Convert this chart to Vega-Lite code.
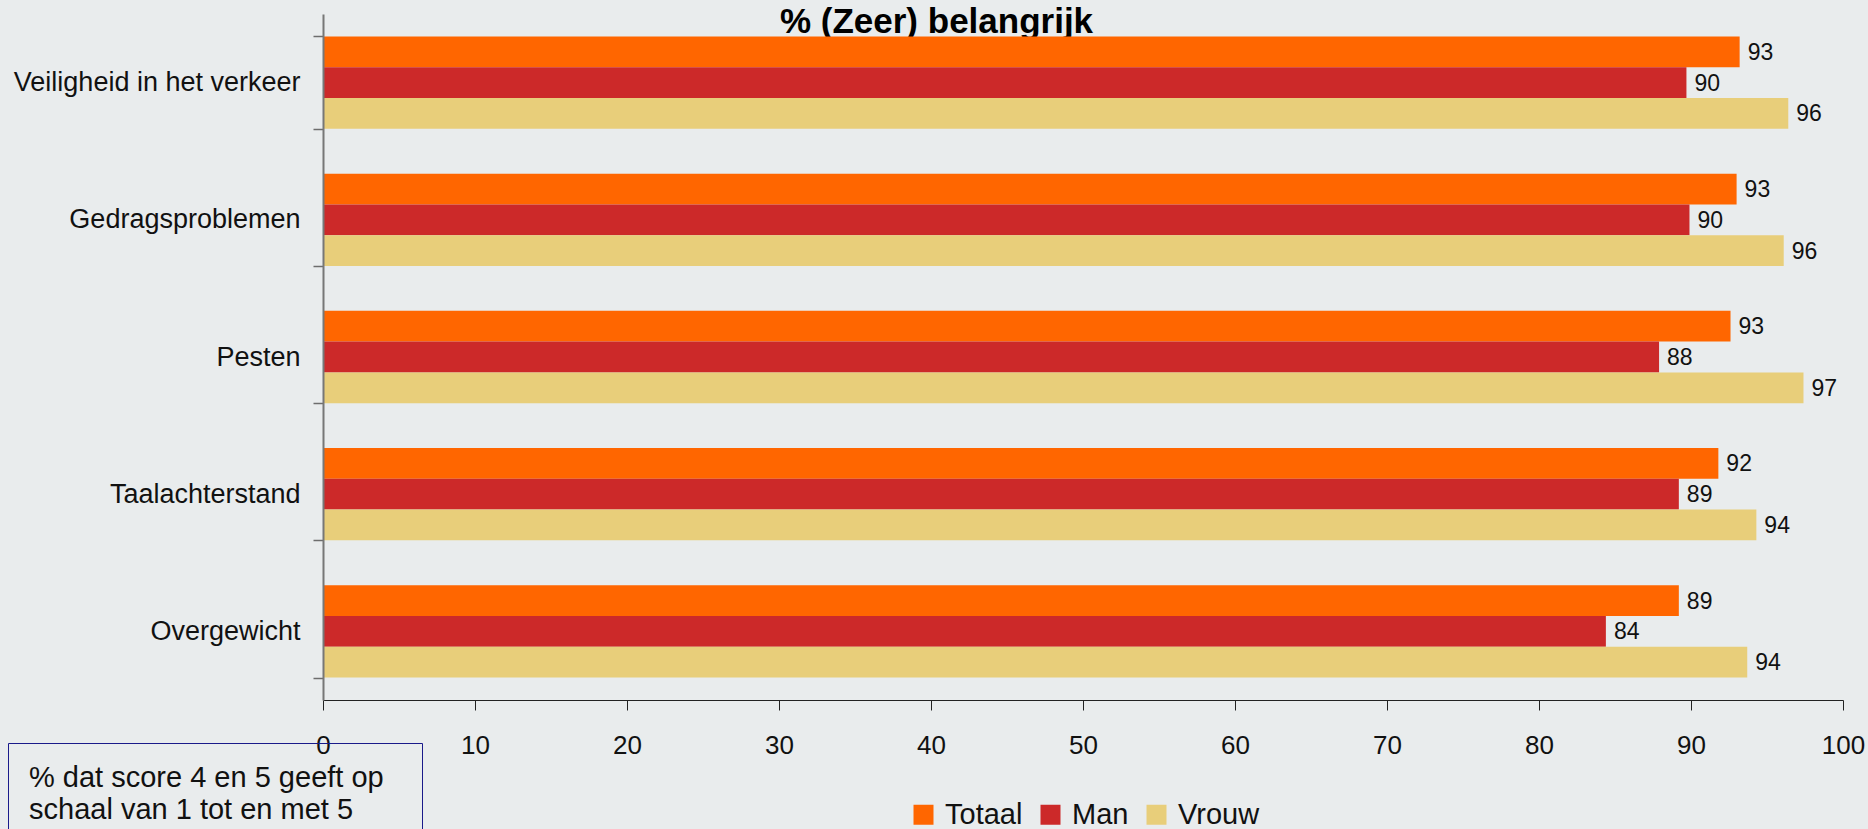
{
  "$schema": "https://vega.github.io/schema/vega-lite/v6.json",
  "width": 1520,
  "height": 686,
  "autosize": {"type": "none"},
  "padding": {"left": 323, "top": 14, "right": 25, "bottom": 129},
  "background": "#E9ECED",
  "data": {
    "values": [
      {"item": "Veiligheid in het verkeer", "groep": "Totaal", "waarde": 93.2, "noot": "n"},
      {"item": "Veiligheid in het verkeer", "groep": "Man", "waarde": 89.7, "noot": "n"},
      {"item": "Veiligheid in het verkeer", "groep": "Vrouw", "waarde": 96.4, "noot": "n"},
      {"item": "Gedragsproblemen", "groep": "Totaal", "waarde": 93.0, "noot": "n"},
      {"item": "Gedragsproblemen", "groep": "Man", "waarde": 89.9, "noot": "n"},
      {"item": "Gedragsproblemen", "groep": "Vrouw", "waarde": 96.1, "noot": "n"},
      {"item": "Pesten", "groep": "Totaal", "waarde": 92.6, "noot": "n"},
      {"item": "Pesten", "groep": "Man", "waarde": 87.9, "noot": "n"},
      {"item": "Pesten", "groep": "Vrouw", "waarde": 97.4, "noot": "n"},
      {"item": "Taalachterstand", "groep": "Totaal", "waarde": 91.8, "noot": "n"},
      {"item": "Taalachterstand", "groep": "Man", "waarde": 89.2, "noot": "n"},
      {"item": "Taalachterstand", "groep": "Vrouw", "waarde": 94.3, "noot": "n"},
      {"item": "Overgewicht", "groep": "Totaal", "waarde": 89.2, "noot": "n"},
      {"item": "Overgewicht", "groep": "Man", "waarde": 84.4, "noot": "n"},
      {"item": "Overgewicht", "groep": "Vrouw", "waarde": 93.7, "noot": "n"}
    ]
  },
  "encoding": {
    "y": {
      "field": "item",
      "type": "nominal",
      "sort": ["Veiligheid in het verkeer", "Gedragsproblemen", "Pesten", "Taalachterstand", "Overgewicht"],
      "scale": {"paddingInner": 0.327, "paddingOuter": 0.1635},
      "axis": {
        "title": null,
        "tickBand": "extent",
        "tickSize": 10,
        "tickColor": "#6d6d6d",
        "tickWidth": 1.5,
        "domainColor": "#777777",
        "domainWidth": 2,
        "labelFont": "Liberation Sans",
        "labelFontSize": 27,
        "labelColor": "#111111",
        "labelPadding": 13,
        "labelLimit": 400,
        "zindex": 1
      }
    },
    "yOffset": {
      "field": "groep",
      "type": "nominal",
      "sort": ["Totaal", "Man", "Vrouw"],
      "scale": {"paddingInner": 0, "paddingOuter": 0}
    },
    "x": {
      "field": "waarde",
      "type": "quantitative",
      "scale": {"domain": [0, 100]},
      "axis": {
        "title": "% (Zeer) belangrijk",
        "titleFont": "Liberation Sans",
        "titleFontSize": 35,
        "titleFontWeight": "bold",
        "titleColor": "#000000",
        "titleX": 613,
        "titleY": -668,
        "titleAlign": "center",
        "titleBaseline": "alphabetic",
        "values": [0, 10, 20, 30, 40, 50, 60, 70, 80, 90, 100],
        "grid": false,
        "tickSize": 10,
        "tickColor": "#222222",
        "domainColor": "#222222",
        "domainWidth": 1,
        "labelFont": "Liberation Sans",
        "labelFontSize": 26,
        "labelColor": "#111111",
        "labelPadding": 22,
        "labelFlush": false
      }
    }
  },
  "layer": [
    {
      "mark": {"type": "bar"},
      "encoding": {
        "color": {
          "field": "groep",
          "type": "nominal",
          "sort": ["Totaal", "Man", "Vrouw"],
          "scale": {"domain": ["Totaal", "Man", "Vrouw"], "range": ["#FF6600", "#CC2929", "#E8CE7A"]},
          "legend": {
            "orient": "none",
            "legendX": 586,
            "legendY": 786,
            "direction": "horizontal",
            "title": null,
            "symbolType": "square",
            "symbolSize": 400,
            "symbolStrokeWidth": 0,
            "symbolOpacity": 1,
            "labelFont": "Liberation Sans",
            "labelFontSize": 29,
            "labelColor": "#111111",
            "labelOffset": 7,
            "columnPadding": 13,
            "padding": 0
          }
        }
      }
    },
    {
      "mark": {
        "type": "text",
        "align": "left",
        "baseline": "middle",
        "dx": 8,
        "dy": 1,
        "font": "Liberation Sans",
        "fontSize": 23,
        "color": "#111111"
      },
      "encoding": {
        "text": {"field": "waarde", "type": "quantitative", "format": ".0f"},
        "opacity": {
          "field": "noot",
          "type": "nominal",
          "scale": {"range": [1]},
          "legend": {
            "orient": "none",
            "legendX": -315,
            "legendY": 729,
            "title": ["% dat score 4 en 5 geeft op", "schaal van 1 tot en met 5"],
            "titleFont": "Liberation Sans",
            "titleFontSize": 29,
            "titleFontWeight": "normal",
            "titleColor": "#111111",
            "titleLineHeight": 32,
            "titleLimit": 1000,
            "strokeColor": "#1A1A8A",
            "padding": 21,
            "symbolSize": 0,
            "symbolOpacity": 0,
            "symbolStrokeWidth": 0,
            "labelExpr": "'MMMMMMMMMMMMMMMMMMMMMMMMMMMMMMMMMMMMMMMMMMMM'",
            "labelOpacity": 0,
            "labelOffset": 0,
            "labelLimit": 1000,
            "labelFontSize": 9.9,
            "encode": {"legend": {"update": {"strokeWidth": {"value": 2}}}}
          }
        }
      }
    }
  ],
  "config": {"view": {"stroke": null}}
}
